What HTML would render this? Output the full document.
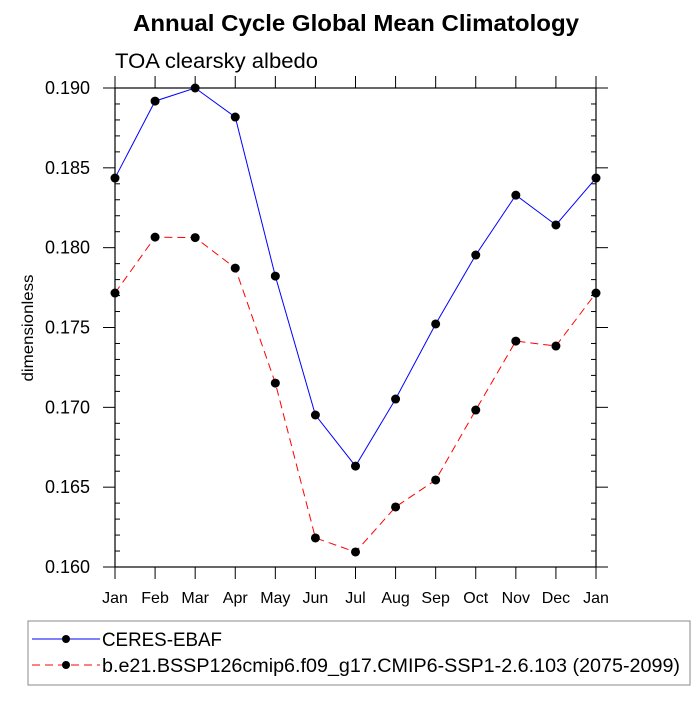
<!DOCTYPE html>
<html><head><meta charset="utf-8"><style>
body{margin:0;background:#fff;font-family:"Liberation Sans",sans-serif}
</style></head><body>
<svg id="c" width="700" height="700" xmlns="http://www.w3.org/2000/svg" font-family="Liberation Sans, sans-serif">
<text x="356" y="31" text-anchor="middle" font-size="23" font-weight="bold" textLength="446" lengthAdjust="spacingAndGlyphs">Annual Cycle Global Mean Climatology</text>
<text x="115" y="68" font-size="21" textLength="203" lengthAdjust="spacingAndGlyphs">TOA clearsky albedo</text>
<text transform="translate(33,328) rotate(-90)" text-anchor="middle" font-size="16" textLength="107" lengthAdjust="spacingAndGlyphs">dimensionless</text>
<g id="axes"></g><g id="series"></g>
<g>
<rect x="28" y="621" width="662" height="64" fill="#fff" stroke="#888" stroke-width="1"/>
<line x1="32" y1="639" x2="100" y2="639" stroke="#0000ff"/>
<circle cx="66" cy="639" r="4"/>
<text x="102" y="646" font-size="19" textLength="120" lengthAdjust="spacingAndGlyphs">CERES-EBAF</text>
<line x1="32" y1="665" x2="100" y2="665" stroke="#ff0000" stroke-dasharray="8,5"/>
<circle cx="66" cy="665" r="4"/>
<text x="102" y="672" font-size="19" textLength="578" lengthAdjust="spacingAndGlyphs">b.e21.BSSP126cmip6.f09_g17.CMIP6-SSP1-2.6.103 (2075-2099)</text>
</g>
</svg>
<script>
const months=["Jan","Feb","Mar","Apr","May","Jun","Jul","Aug","Sep","Oct","Nov","Dec","Jan"];
const ceres=[0.18436,0.18918,0.19000,0.18818,0.17822,0.16952,0.16632,0.17052,0.17522,0.17954,0.18329,0.18142,0.18436];
const model=[0.17716,0.18066,0.18063,0.17872,0.17152,0.16182,0.16094,0.16376,0.16545,0.16983,0.17415,0.17384,0.17716];
const yTicks=[0.160,0.165,0.170,0.175,0.180,0.185,0.190];
const yTickLabels=["0.160","0.165","0.170","0.175","0.180","0.185","0.190"];
const L=115,R=596,T=88,B=567,ymin=0.160,ymax=0.190;
const X=i=>L+(R-L)*i/(months.length-1);
const Y=v=>B-(v-ymin)/(ymax-ymin)*(B-T);
const NS="http://www.w3.org/2000/svg";
function mk(t,a,p){const e=document.createElementNS(NS,t);for(const k in a)e.setAttribute(k,a[k]);p.appendChild(e);return e;}
const ax=document.getElementById('axes');
let f=mk('rect',{x:L,y:T,width:R-L,height:B-T,fill:'none',stroke:'#000','stroke-width':1.2},ax);


months.forEach((m,i)=>{
 const x=X(i);
 let t=mk('line',{x1:x,y1:B,x2:x,y2:B+12,stroke:'#000'},ax);
 
 
 mk('line',{x1:x,y1:T,x2:x,y2:T-12,stroke:'#000'},ax);
 let l=mk('text',{x:x,y:B+36,'text-anchor':'middle','font-size':16},ax);
 l.textContent=m;
 
 
});
for(let k=0;k<=30;k++){
 const y=Y(ymin+k*0.001);
 if(k%5){mk('line',{x1:L,y1:y,x2:L+5,y2:y,stroke:'#000'},ax);mk('line',{x1:R,y1:y,x2:R-5,y2:y,stroke:'#000'},ax);}
}
yTicks.forEach((v,i)=>{
 const y=Y(v);
 let t=mk('line',{x1:L-12,y1:y,x2:L,y2:y,stroke:'#000'},ax);
 
 
 mk('line',{x1:R,y1:y,x2:R+12,y2:y,stroke:'#000'},ax);
 let l=mk('text',{x:L-25,y:y+6,'text-anchor':'end','font-size':18},ax);
 l.textContent=yTickLabels[i];
 
 
});
const sg=document.getElementById('series');
function series(d,col,dash,name){
 let p=mk('polyline',{points:d.map((v,i)=>X(i)+','+Y(v)).join(' '),fill:'none',stroke:col,'stroke-width':1,'stroke-dasharray':dash},sg);
 
 
 d.forEach((v,i)=>{
  let c=mk('circle',{cx:X(i),cy:Y(v),r:4.5,fill:'#000'},sg);
  
  
 });
}
series(model,'#ff0000','8,5','model');
series(ceres,'#0000ff','none','ceres');
</script>
</body></html>
